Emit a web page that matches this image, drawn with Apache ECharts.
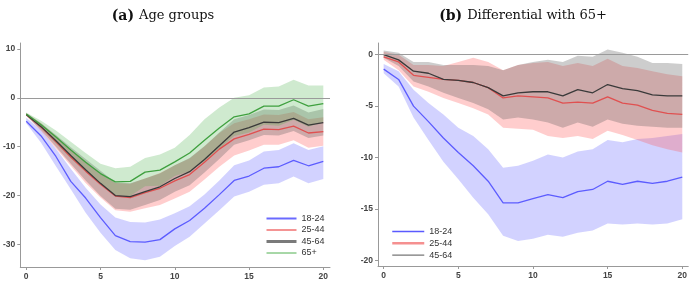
<!DOCTYPE html>
<html>
<head>
<meta charset="utf-8">
<script src="https://cdn.jsdelivr.net/npm/echarts@6/dist/echarts.min.js"></script>
<style>
html, body { margin: 0; padding: 0; background: #fff; }
#chart { width: 690px; height: 281px; }
</style>
</head>
<body>
<div id="chart"></div>
<script>
// horizon (x axis)
const steps = [0, 1, 2, 3, 4, 5, 6, 7, 8, 9, 10, 11, 12, 13, 14, 15, 16, 17, 18, 19, 20];
const xTicks = [0, 5, 10, 15, 20];
const yTicksA = [-30, -20, -10, 0, 10];
const yTicksB = [-20, -15, -10, -5, 0];

// (a) age groups: estimate, lower and upper band
const a1824 = [-4.8, -7.8, -12.0, -17.1, -20.5, -24.5, -28.2, -29.4, -29.5, -29.0, -26.8, -25.1, -22.6, -19.8, -16.9, -16.0, -14.4, -14.1, -12.8, -13.9, -13.0];
const a1824Lo = [-5.2, -9.2, -14.0, -18.7, -23.5, -27.6, -31.1, -32.8, -33.2, -32.5, -30.3, -28.4, -25.7, -23.0, -20.2, -19.2, -17.8, -17.5, -16.1, -17.5, -16.6];
const a1824Hi = [-4.1, -6.6, -10.4, -14.5, -18.4, -21.8, -24.5, -25.4, -25.5, -24.9, -23.6, -22.2, -19.8, -16.9, -13.8, -12.8, -11.0, -10.7, -9.3, -10.7, -9.9];

const a2544 = [-3.4, -6.0, -9.0, -12.1, -15.0, -17.7, -20.1, -20.4, -19.4, -18.5, -17.0, -15.7, -13.2, -10.5, -8.4, -7.5, -6.4, -6.5, -5.8, -7.2, -6.9];
const a2544Lo = [-3.7, -6.8, -10.3, -13.9, -17.4, -20.4, -23.0, -23.3, -22.6, -21.9, -20.6, -19.2, -16.7, -14.1, -11.8, -10.8, -9.6, -9.6, -8.7, -10.2, -9.8];
const a2544Hi = [-3.1, -5.2, -7.8, -10.5, -13.0, -15.5, -17.4, -17.6, -16.5, -15.4, -13.8, -12.4, -9.9, -7.2, -5.2, -4.4, -3.4, -3.5, -2.9, -4.4, -4.0];

const a4564 = [-3.4, -5.9, -8.8, -11.8, -14.7, -17.5, -20.0, -20.2, -19.2, -18.2, -16.5, -15.1, -12.6, -9.8, -7.0, -6.1, -5.0, -5.1, -4.2, -5.6, -5.1];
const a4564Lo = [-3.7, -6.6, -10.0, -13.5, -16.9, -20.1, -22.7, -22.9, -21.9, -20.9, -19.2, -17.9, -15.3, -12.5, -9.6, -8.7, -7.6, -7.7, -6.8, -8.2, -7.7];
const a4564Hi = [-3.1, -5.2, -7.6, -10.1, -12.5, -14.9, -17.3, -17.5, -16.5, -15.5, -13.8, -12.3, -9.9, -7.1, -4.4, -3.5, -2.4, -2.5, -1.6, -3.0, -2.3];

const a65 = [-3.3, -5.5, -8.0, -10.7, -13.2, -15.5, -17.2, -17.1, -15.2, -14.8, -13.1, -11.3, -8.7, -6.2, -3.9, -3.3, -1.7, -1.7, -0.4, -1.7, -1.2];
const a65Lo = [-3.6, -6.3, -9.3, -12.4, -15.1, -17.5, -20.0, -20.1, -18.1, -18.0, -16.0, -15.0, -13.0, -10.4, -7.8, -7.1, -5.5, -5.7, -4.5, -5.9, -4.9];
const a65Hi = [-3.0, -4.7, -6.7, -9.0, -11.3, -13.5, -14.4, -14.1, -12.3, -11.6, -10.2, -7.6, -4.4, -2.0, 0.0, 0.5, 2.1, 2.3, 3.7, 2.5, 2.5];

// (b) differential with 65+
const b1824 = [-1.4, -2.4, -5.0, -6.5, -8.1, -9.5, -10.8, -12.3, -14.4, -14.4, -14.0, -13.6, -13.9, -13.3, -13.1, -12.3, -12.6, -12.3, -12.5, -12.3, -11.9];
const b1824Lo = [-1.8, -3.1, -6.1, -8.3, -10.4, -12.1, -13.9, -15.5, -17.6, -18.1, -17.9, -17.5, -17.7, -17.3, -17.1, -16.4, -16.5, -16.4, -16.5, -16.4, -16.0];
const b1824Hi = [-0.9, -1.6, -3.4, -4.7, -5.8, -7.1, -7.9, -9.2, -11.0, -10.8, -10.3, -9.7, -10.0, -9.4, -9.2, -8.3, -8.5, -8.2, -8.1, -7.9, -7.7];

const b2544 = [-0.2, -0.7, -2.0, -2.2, -2.4, -2.5, -2.7, -3.2, -4.2, -4.0, -4.1, -4.2, -4.7, -4.6, -4.7, -4.1, -4.7, -4.9, -5.4, -5.7, -5.8];
const b2544Lo = [-0.5, -1.5, -3.1, -3.6, -4.2, -4.7, -5.2, -5.8, -7.1, -7.2, -7.3, -7.9, -8.1, -7.9, -8.2, -7.4, -7.8, -8.3, -8.8, -9.2, -9.5];
const b2544Hi = [0.3, 0.0, -1.0, -1.0, -1.1, -0.7, -0.3, -0.7, -1.5, -1.0, -0.8, -0.7, -1.1, -0.8, -1.1, -0.4, -1.1, -1.3, -1.6, -1.9, -2.1];

const b4564 = [0.0, -0.5, -1.6, -1.8, -2.4, -2.5, -2.7, -3.2, -4.0, -3.7, -3.6, -3.6, -4.0, -3.4, -3.7, -2.9, -3.3, -3.5, -3.9, -4.0, -4.0];
const b4564Lo = [-0.3, -1.1, -2.6, -3.1, -3.7, -4.2, -4.7, -5.3, -6.3, -6.1, -6.3, -6.6, -7.1, -6.6, -7.0, -6.3, -6.7, -6.9, -7.0, -7.1, -7.1];
const b4564Hi = [0.4, 0.2, -0.7, -0.7, -1.0, -1.0, -1.0, -1.1, -1.5, -1.0, -0.7, -0.5, -0.7, -0.1, -0.2, 0.5, 0.2, -0.2, -0.8, -0.8, -0.9];

const cBlue = '#5c5cff', cRed = '#e05050', cBlack = '#3a3a3a', cGreen = '#3fa03f';
const fBlue = 'rgba(105,105,255,0.30)', fRed = 'rgba(255,90,90,0.30)';
const fGray = 'rgba(90,90,90,0.30)', fGreen = 'rgba(70,175,70,0.26)';

const pairs = vals => steps.map((t, i) => [t, vals[i]]);

// confidence band: one polygon (upper edge forward, lower edge back) via api.coord
function band(lo, hi, fill, ax) {
    return {
        type: 'custom', xAxisIndex: ax, yAxisIndex: ax, silent: true, z: 1,
        data: steps.map((t, i) => [t, lo[i], hi[i]]),
        renderItem: (params, api) => {
            if (params.dataIndex !== 0) return null;
            const pts = [];
            steps.forEach((t, i) => pts.push(api.coord([t, hi[i]])));
            for (let i = steps.length - 1; i >= 0; i--) pts.push(api.coord([steps[i], lo[i]]));
            return {
                type: 'polygon',
                shape: { points: pts },
                style: { fill: fill, stroke: null }
            };
        }
    };
}

function line(name, vals, color, ax) {
    return {
        name: name, type: 'line', xAxisIndex: ax, yAxisIndex: ax,
        data: pairs(vals), symbol: 'none', showSymbol: false, z: 3,
        lineStyle: { color: color, width: 1.3 }, itemStyle: { color: color }
    };
}

function zeroLine(ax) {
    return {
        type: 'line', xAxisIndex: ax, yAxisIndex: ax, data: [], silent: true,
        markLine: {
            silent: true, symbol: ['none', 'none'], label: { show: false },
            lineStyle: { color: '#9a9a9a', width: 1, type: 'solid' },
            data: [{ yAxis: 0 }]
        }
    };
}

const tickFont = { fontFamily: 'Liberation Sans', fontSize: 8.5, fontWeight: 'bold', color: '#444' };
const axisLine = { show: true, onZero: false, lineStyle: { color: '#999', width: 1 } };

function xAxis(grid, min, max) {
    return {
        type: 'value', gridIndex: grid, min: min, max: max,
        axisLine: axisLine, splitLine: { show: false },
        axisTick: { show: true, length: 3, customValues: xTicks, lineStyle: { color: '#999' } },
        axisLabel: Object.assign({ margin: 5, customValues: xTicks }, tickFont)
    };
}

function yAxis(grid, min, max, ticks) {
    return {
        type: 'value', gridIndex: grid, min: min, max: max,
        axisLine: axisLine, splitLine: { show: false },
        axisTick: { show: true, length: 3, customValues: ticks, lineStyle: { color: '#999' } },
        axisLabel: Object.assign({ margin: 5, customValues: ticks }, tickFont)
    };
}

const titleRich = {
    b: { fontFamily: 'DejaVu Serif', fontWeight: 'bold', fontSize: 14, color: '#111' },
    n: { fontFamily: 'DejaVu Serif', fontWeight: 'normal', fontSize: 13, color: '#111' }
};

const legendText = { fontFamily: 'Liberation Sans', fontSize: 9, color: '#333' };
const hideSym = { opacity: 0 };

const chart = echarts.init(document.getElementById('chart'), null, { renderer: 'canvas' });

chart.setOption({
    animation: false,
    backgroundColor: '#fff',
    title: [
        { text: '{b|(a)} {n|Age groups}', left: 158, top: 2, textAlign: 'center', textStyle: { rich: titleRich } },
        { text: '{b|(b)} {n|Differential with 65+}', left: 518, top: 2, textAlign: 'center', textStyle: { rich: titleRich } }
    ],
    grid: [
        { left: 17, top: 43, width: 313, height: 224 },
        { left: 378, top: 43, width: 312, height: 223 }
    ],
    xAxis: [xAxis(0, -0.4, 20.45), xAxis(1, -0.38, 20.4)],
    yAxis: [yAxis(0, -34.6, 11.2, yTicksA), yAxis(1, -20.54, 1.14, yTicksB)],
    legend: [
        {
            orient: 'vertical', left: 260, top: 209, itemWidth: 30, itemHeight: 10, itemGap: 2.5,
            textStyle: legendText,
            data: [
                { name: '18-24', itemStyle: hideSym, lineStyle: { width: 2, color: '#6a6aff' } },
                { name: '25-44', itemStyle: hideSym, lineStyle: { width: 1.5, color: '#f07070' } },
                { name: '45-64', itemStyle: hideSym, lineStyle: { width: 3, color: '#7a7a7a' } },
                { name: '65+', itemStyle: hideSym, lineStyle: { width: 1, color: '#50b050' } }
            ]
        },
        {
            orient: 'vertical', left: 386, top: 222, itemWidth: 32, itemHeight: 10, itemGap: 2.8,
            textStyle: legendText,
            data: [
                { name: '18-24 ', itemStyle: hideSym, lineStyle: { width: 1.5, color: '#5a5aff' } },
                { name: '25-44 ', itemStyle: hideSym, lineStyle: { width: 2.5, color: '#f59090' } },
                { name: '45-64 ', itemStyle: hideSym, lineStyle: { width: 1, color: '#555' } }
            ],
            formatter: n => n.trim()
        }
    ],
    series: [
        zeroLine(0),
        band(a1824Lo, a1824Hi, fBlue, 0),
        band(a2544Lo, a2544Hi, fRed, 0),
        band(a4564Lo, a4564Hi, fGray, 0),
        band(a65Lo, a65Hi, fGreen, 0),
        line('18-24', a1824, cBlue, 0),
        line('25-44', a2544, cRed, 0),
        line('45-64', a4564, cBlack, 0),
        line('65+', a65, cGreen, 0),

        zeroLine(1),
        band(b1824Lo, b1824Hi, fBlue, 1),
        band(b2544Lo, b2544Hi, fRed, 1),
        band(b4564Lo, b4564Hi, fGray, 1),
        line('18-24 ', b1824, cBlue, 1),
        line('25-44 ', b2544, cRed, 1),
        line('45-64 ', b4564, cBlack, 1)
    ]
});
</script>
</body>
</html>
